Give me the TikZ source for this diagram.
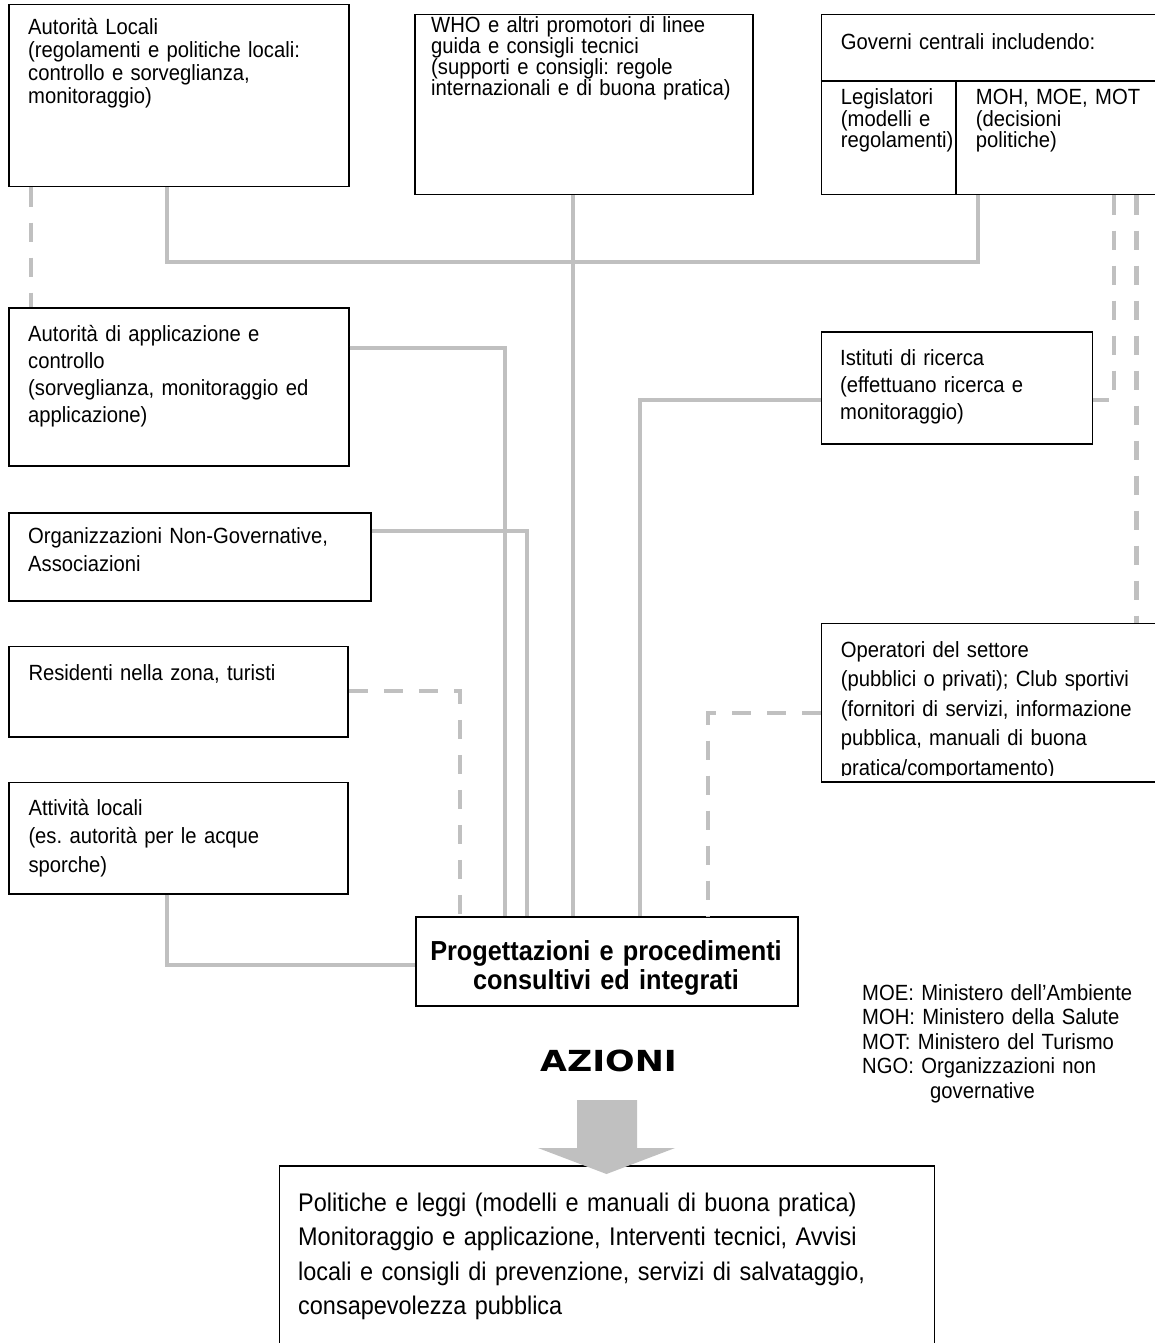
\documentclass[tikz,border=0pt]{standalone}
\usepackage{fontspec}
\setmainfont{Liberation Sans}[FakeStretch=0.92,WordSpace=0.85]
\newfontfamily\azfont{DejaVu Sans}[FakeStretch=1.2]
\definecolor{lg}{HTML}{C0C0C0}
\frenchspacing
\tikzset{
  box/.style={draw=black, line width=1.5pt, inner sep=0pt, anchor=north west},
  conn/.style={draw=lg, line width=4.2pt},
  dconn/.style={conn, dash pattern=on 19pt off 16pt},
  txt/.style={anchor=base west, inner sep=0pt, align=left, text width=330pt, font=\fontsize{22}{23}\selectfont},
}
\begin{document}
\frenchspacing
\begin{tikzpicture}[x=1pt,y=-1pt]
\fill[white] (0,0) rectangle (1154,1343);
\useasboundingbox (0,0) rectangle (1154,1343);

% ---- boxes
\node[box, minimum width=340pt, minimum height=182pt] (aloc) at (8,4) {};
\node[box, minimum width=338pt, minimum height=180pt] (who) at (414,14) {};
\node[box, minimum width=349.3pt, minimum height=180pt] (gov) at (820.7,14) {};
\draw[line width=1.5pt] (820.7,81) -- (1170,81);
\draw[line width=1.5pt] (956,81) -- (956,194);
\node[box, minimum width=340pt, minimum height=158pt] (aapp) at (8,307) {};
\node[box, minimum width=271pt, minimum height=112pt] (ist) at (820.7,331) {};
\node[box, minimum width=362pt, minimum height=88pt] (ngo) at (8,512) {};
\node[box, minimum width=339.3pt, minimum height=90.3pt] (res) at (8,645.7) {};
\node[box, minimum width=349.3pt, minimum height=158.3pt] (ope) at (820.7,622.7) {};
\node[box, minimum width=339.3pt, minimum height=111.3pt] (att) at (8,781.7) {};
\node[box, minimum width=382pt, minimum height=89pt] (prog) at (415,916) {};
\node[box, minimum width=655pt, minimum height=200pt] (fin) at (278.7,1165) {};

% ---- texts
\node[txt] (taloc) at (28,35) {Autorità Locali\\(regolamenti e politiche locali:\\controllo e sorveglianza,\\monitoraggio)};
\node[txt, font=\fontsize{22}{20.8}\selectfont] (twho) at (431,33) {WHO e altri promotori di linee\\guida e consigli tecnici\\(supporti e consigli: regole\\internazionali e di buona pratica)};
\node[txt] (tgov) at (840.7,50) {Governi centrali includendo:};
\node[txt, text width=120pt, font=\fontsize{22}{21.2}\selectfont] (tleg) at (840.7,105) {Legislatori\\(modelli e\\regolamenti)};
\node[txt, text width=170pt, font=\fontsize{22}{21.2}\selectfont] (tmoh) at (975.7,105) {MOH, MOE, MOT\\(decisioni\\politiche)};
\node[txt, font=\fontsize{22}{27}\selectfont] (taapp) at (28,341) {Autorità di applicazione e\\controllo\\(sorveglianza, monitoraggio ed\\applicazione)};
\node[txt, font=\fontsize{22}{27}\selectfont] (tist) at (840,365) {Istituti di ricerca\\(effettuano ricerca e\\monitoraggio)};
\node[txt, font=\fontsize{22}{28}\selectfont] (tngo) at (28,543) {Organizzazioni Non-Governative,\\Associazioni};
\node[txt] (tres) at (28.3,680) {Residenti nella zona, turisti};
\begin{scope}
\clip (815,600) rectangle (1160,775.5);
\node[txt, font=\fontsize{22}{29.5}\selectfont] (tope) at (840.7,657) {Operatori del settore\\(pubblici o privati); Club sportivi\\(fornitori di servizi, informazione\\pubblica, manuali di buona\\pratica/comportamento)};
\end{scope}
\node[txt, font=\fontsize{22}{28.5}\selectfont] (tatt) at (28.3,815) {Attività locali\\(es. autorità per le acque\\sporche)};
\node[anchor=base, inner sep=0pt, align=center, text width=380pt, font=\bfseries\fontsize{27.5}{29}\selectfont] (tprog) at (606,960) {Progettazioni e procedimenti\\consultivi ed integrati};
\node[txt, text width=300pt, font=\fontsize{22}{24.5}\selectfont] (leg) at (862,1000) {MOE: Ministero dell’Ambiente\\MOH: Ministero della Salute\\MOT: Ministero del Turismo\\NGO: Organizzazioni non\\\hspace*{68pt}governative};
\node[anchor=base, inner sep=0pt, font=\azfont\bfseries\fontsize{29}{32}\selectfont] (az) at (608.5,1071) {AZIONI};
\node[txt, text width=640pt, font=\fontsize{25.5}{34.5}\selectfont] (tfin) at (298,1211) {Politiche e leggi (modelli e manuali di buona pratica)\\Monitoraggio e applicazione, Interventi tecnici, Avvisi\\locali e consigli di prevenzione, servizi di salvataggio,\\consapevolezza pubblica};

% ---- big arrow
\fill[lg] (577,1100) -- (637,1100) -- (637,1148) -- (675,1148) -- (606.5,1174) -- (538,1148) -- (577,1148) -- cycle;

% ---- connectors
\coordinate (hL) at (166.7,261.7);
\coordinate (hR) at (978,261.7);
\coordinate (xw) at (573,0);
\coordinate (xd) at (30.7,0);
\coordinate (c1) at (505,348);
\coordinate (c2) at (527,531);
\coordinate (c3) at (460,691);
\coordinate (c4) at (166.7,965);
\coordinate (c5) at (640,400);
\coordinate (c6) at (708,713.3);
\coordinate (c7) at (1114,400);
\coordinate (c8) at (1136.5,0);

\draw[conn] (aloc.south -| hL) -- (hL) -- (hR) -- (gov.south -| hR);
\draw[conn] (who.south -| xw) -- (prog.north -| xw);
\draw[dconn] (aloc.south -| xd) -- (aapp.north -| xd);
\draw[conn] (aapp.east |- c1) -- (c1) -- (prog.north -| c1);
\draw[conn] (ngo.east |- c2) -- (c2) -- (prog.north -| c2);
\draw[dconn] (res.east |- c3) -- (c3) -- (prog.north -| c3);
\draw[conn] (att.south -| c4) -- (c4) -- (prog.west |- c4);
\draw[conn] (ist.west |- c5) -- (c5) -- (prog.north -| c5);
\draw[dconn] (ope.west |- c6) -- (c6) -- (prog.north -| c6);
\draw[dconn] (gov.south -| c7) -- (c7) -- (ist.east |- c7);
\draw[dconn] (gov.south -| c8) -- (ope.north -| c8);
\end{tikzpicture}
\end{document}
